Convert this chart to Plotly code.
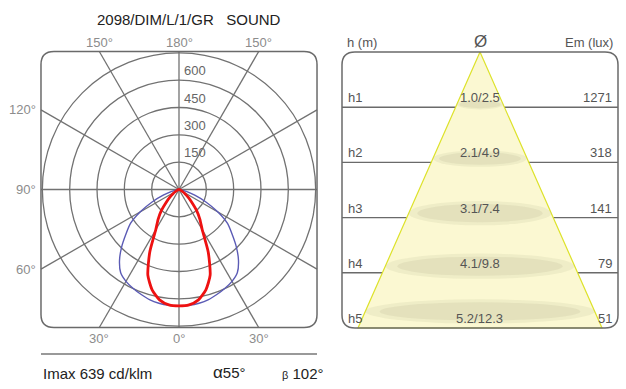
import numpy as np
import plotly.graph_objects as go

# ---- data ----
title = "2098/DIM/L/1/GR\u00a0\u00a0\u00a0SOUND"
imax = 639
alpha_deg = 55
beta_deg = 102

# polar curve, intensity (cd/klm) vs angle from nadir (deg)
gamma = [0, 5, 10, 15, 20, 25, 30, 35, 40, 45, 50, 55, 60, 65, 70, 75, 80, 85, 90]
i_red = [639, 636, 615, 570, 500, 380, 255, 200, 150, 100, 65, 40, 22, 12, 6, 3, 1, 0, 0]
i_blue = [639, 638, 634, 626, 612, 598, 582, 558, 508, 445, 380, 325, 245, 165, 92, 45, 18, 5, 0]

rings = [150, 300, 450, 600, 750]
ring_labels = [150, 300, 450, 600]
spokes = list(range(0, 360, 30))
# (text, angle) ; angle 0 = down, positive = right side
angle_labels = [("180°", 180), ("150°", -150), ("150°", 150),
                ("120°", -120), ("90°", -90), ("60°", -60),
                ("30°", -30), ("0°", 0), ("30°", 30)]

# cone diagram
h_names = ["h1", "h2", "h3", "h4", "h5"]
h_m = [1, 2, 3, 4, 5]
d_alpha = [1.0, 2.1, 3.1, 4.1, 5.2]
d_beta = [2.5, 4.9, 7.4, 9.8, 12.3]
em_lux = [1271, 318, 141, 79, 51]

# ---- styling ----
GRID = "#727272"
FONT = "Arial, Liberation Sans, sans-serif"
R = 757.5            # half size of polar frame (cd)
PX = 0.1822          # px per cd
CX, CY = 179, 189.5  # polar centre (px)
XR, YR = 7.107, 0.054  # right panel padding
RX_M = 19.84         # px per m (x) right panel
RY_M = 55.2          # px per m (y) right panel


def px(x, y):
    return dict(x=x / 626, y=1 - y / 389, xref="paper", yref="paper", yanchor="middle")


fig = go.Figure()

# polar curves
g = np.radians(np.concatenate([-np.array(gamma[::-1]), np.array(gamma[1:])]))
for vals, col, w in [(i_blue, "#5b5bb5", 1.4), (i_red, "#ee1111", 2.8)]:
    v = np.concatenate([np.array(vals[::-1]), np.array(vals[1:])])
    fig.add_trace(go.Scatter(x=v * np.sin(g), y=-v * np.cos(g), mode="lines",
                             line=dict(color=col, width=w, shape="spline", smoothing=0.6),
                             xaxis="x", yaxis="y", hoverinfo="skip", showlegend=False))

shapes = []
# rings and spokes of polar grid
for r in rings:
    shapes.append(dict(type="circle", xref="x", yref="y", x0=-r, x1=r, y0=-r, y1=r,
                       line=dict(color=GRID, width=1.3), layer="below"))
for a in spokes:
    t = np.radians(a)
    s, c = np.sin(t), -np.cos(t)
    L = R / max(abs(s), abs(c))
    shapes.append(dict(type="line", xref="x", yref="y", x0=0, y0=0, x1=L * s, y1=L * c,
                       line=dict(color=GRID, width=1.3), layer="below"))


def rrect(xa, ya, x0, x1, y0, y1, rx, ry, color, width):
    p = (f"M {x0+rx},{y0} L {x1-rx},{y0} Q {x1},{y0} {x1},{y0+ry} "
         f"L {x1},{y1-ry} Q {x1},{y1} {x1-rx},{y1} L {x0+rx},{y1} "
         f"Q {x0},{y1} {x0},{y1-ry} L {x0},{y0+ry} Q {x0},{y0} {x0+rx},{y0} Z")
    return dict(type="path", xref=xa, yref=ya, path=p, line=dict(color=color, width=width))


rc = 13 / PX
shapes.append(rrect("x", "y", -R, R, -R, R, rc, rc, "#6a6a6a", 1.5))

# right panel: horizontal level lines under the cone
W = 138 / RX_M
for h in h_m[:-1]:
    shapes.append(dict(type="line", xref="x2", yref="y2", x0=-W, x1=W, y0=h, y1=h,
                       line=dict(color="#6a6a6a", width=1.4), layer="below"))

# cone (beta beam)
half = d_beta[-1] / 2
fig.add_trace(go.Scatter(x=[0, -half, half, 0], y=[0, h_m[-1], h_m[-1], 0], mode="lines",
                         fill="toself", fillcolor="#fbf8d2",
                         line=dict(color="#dde22a", width=1.2),
                         xaxis="x2", yaxis="y2", hoverinfo="skip", showlegend=False))

# light spots (soft ellipses inside the cone)
e_half = [0.09, 0.15, 0.22, 0.23, 0.22]
e_off = [0.05, 0.07, 0.08, 0.12, 0.3]
for h, d, eh, eo in zip(h_m, d_beta, e_half, e_off):
    cy = h - eo
    hw = d / 2 * cy / h
    for k, op in [(1.0, 0.2), (0.75, 0.25)]:
        shapes.append(dict(type="circle", xref="x2", yref="y2", x0=-hw * (0.5 + 0.5 * k),
                           x1=hw * (0.5 + 0.5 * k), y0=cy - eh * k, y1=cy + eh * k,
                           fillcolor=f"rgba(195,193,155,{op})", line=dict(width=0),
                           layer="above"))

shapes.append(rrect("x2", "y2", -W, W, 0, h_m[-1], 13 / RX_M, 13 / RY_M, "#6a6a6a", 1.5))

# bottom rule
shapes.append(dict(type="line", xref="paper", yref="paper", x0=41 / 626, x1=317 / 626,
                   y0=1 - 354 / 389, y1=1 - 354 / 389, line=dict(color="#777", width=1.5)))

ann = []
ann.append(dict(text=title, **px(188.5, 20), xanchor="center", showarrow=False,
                font=dict(size=15, color="#222")))
for r in ring_labels:
    ann.append(dict(text=str(r), x=16, y=r, xref="x", yref="y", xanchor="left",
                    yanchor="bottom", showarrow=False, font=dict(size=13, color="#666")))
for txt, a in angle_labels:
    t = np.radians(a)
    s, c = np.sin(t), -np.cos(t)
    if abs(c) >= abs(s) - 1e-9:
        L = R / abs(c)
        yy = CY - R * PX - 8.5 if c > 0 else CY + R * PX + 10.5
        ann.append(dict(text=txt, **px(CX + L * s * PX, yy), xanchor="center",
                        showarrow=False, font=dict(size=13, color="#8c8c8c")))
    else:
        L = R / abs(s)
        ann.append(dict(text=txt, **px(CX - R * PX - 3, CY - L * c * PX), xanchor="right",
                        showarrow=False, font=dict(size=13, color="#8c8c8c")))

ann.append(dict(text=f"Imax {imax} cd/klm", **px(41, 373), xanchor="left", showarrow=False,
                font=dict(size=15, color="#222")))
ann.append(dict(text=f"<span style='font-size:17px'>α</span>{alpha_deg}°", **px(211, 372),
                xanchor="left", showarrow=False, font=dict(size=15, color="#222")))
ann.append(dict(text=f"<span style='font-size:11px'>β</span> {beta_deg}°", **px(326, 373),
                xanchor="right", showarrow=False, font=dict(size=15, color="#222")))

# right panel texts
ann.append(dict(text="h (m)", **px(345, 43), xanchor="left", showarrow=False,
                font=dict(size=13, color="#555")))
ann.append(dict(text="Ø", **px(480, 42), xanchor="center", showarrow=False,
                font=dict(size=17, color="#555")))
ann.append(dict(text="Em (lux)", **px(615, 43), xanchor="right", showarrow=False,
                font=dict(size=13, color="#555")))
for name, h, da, db, em in zip(h_names, h_m, d_alpha, d_beta, em_lux):
    ann.append(dict(text=name, x=-W + 4 / RX_M, y=h, xref="x2", yref="y2", xanchor="left",
                    yanchor="bottom", showarrow=False, font=dict(size=13, color="#555")))
    ann.append(dict(text=f"{da:.1f}/{db:.1f}", x=0, y=h, xref="x2", yref="y2",
                    xanchor="center", yanchor="bottom", showarrow=False,
                    font=dict(size=13, color="#555")))
    ann.append(dict(text=str(em), x=W - 4 / RX_M, y=h, xref="x2", yref="y2", xanchor="right",
                    yanchor="bottom", showarrow=False, font=dict(size=13, color="#555")))

R2 = 765
ax = dict(visible=False, showgrid=False, zeroline=False, fixedrange=True)
fig.update_layout(
    width=626, height=389, margin=dict(l=0, r=0, t=0, b=0),
    paper_bgcolor="white", plot_bgcolor="rgba(0,0,0,0)",
    font=dict(family=FONT),
    xaxis=dict(ax, range=[-R2, R2], domain=[(CX - R2 * PX) / 626, (CX + R2 * PX) / 626]),
    yaxis=dict(ax, range=[-R2, R2],
               domain=[(389 - CY - R2 * PX) / 389, (389 - CY + R2 * PX) / 389]),
    xaxis2=dict(ax, range=[-XR, XR], domain=[(480 - XR * RX_M) / 626, (480 + XR * RX_M) / 626],
                anchor="y2"),
    yaxis2=dict(ax, range=[h_m[-1] + YR, -YR], anchor="x2",
                domain=[(389 - 328 - YR * RY_M) / 389, (389 - 52 + YR * RY_M) / 389]),
    shapes=shapes, annotations=ann,
)

fig.write_html("out.html", config={"displayModeBar": False},
               post_script="document.body.style.margin='0';")
